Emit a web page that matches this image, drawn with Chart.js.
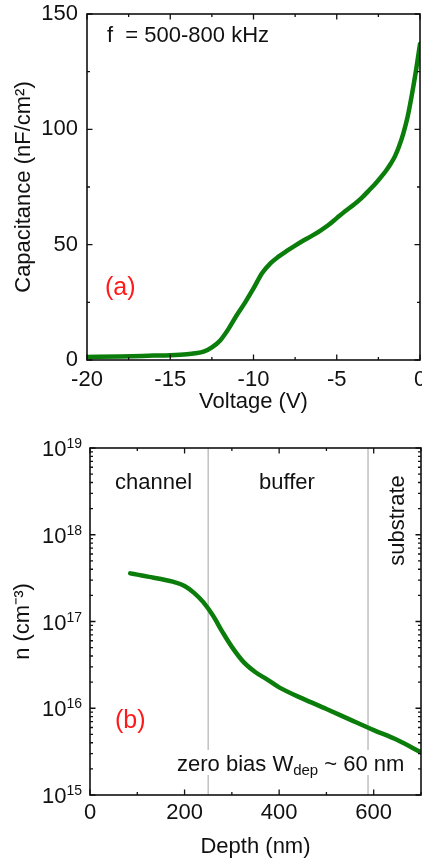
<!DOCTYPE html>
<html>
<head>
<meta charset="utf-8">
<script src="https://cdn.jsdelivr.net/npm/chart.js@4.4.1/dist/chart.umd.min.js"></script>
<style>
  html, body { margin: 0; padding: 0; background: #fff; overflow: hidden; width: 422px; height: 862px; }
  canvas { position: absolute; left: 0; display: block; }
  #cv { top: 0; }
  #prof { top: 428px; }
</style>
</head>
<body>
<canvas id="cv" width="422" height="428"></canvas>
<canvas id="prof" width="422" height="434"></canvas>
<script>
// ---- (a) capacitance–voltage sweep ----
const voltage = [-20, -18, -16, -15, -14, -13.5, -13, -12.5, -12, -11.5, -11, -10.5, -10, -9.5, -9, -8.5, -8,
  -7.5, -7, -6.5, -6, -5.5, -5, -4.5, -4, -3.5, -3, -2.75, -2.5, -2.25, -2, -1.75, -1.5, -1.25, -1, -0.75,
  -0.5, -0.25, 0];
const capacitance = [1.3, 1.5, 1.9, 2.1, 2.5, 2.9, 3.6, 5.5, 8.5, 13.5, 19.5, 25, 31, 37.5, 41.8, 44.8, 47.3,
  49.6, 51.8, 53.8, 56, 58.5, 61.5, 64.5, 67.2, 70.3, 74, 75.9, 77.9, 80.1, 82.5, 85.2, 88.4, 92.8, 98.3, 105.2,
  114.5, 125, 137];
const voltageTicks = [-20, -15, -10, -5, 0];
const voltageMinor = [-17.5, -12.5, -7.5, -2.5];
const capTicks = [0, 50, 100, 150];
const capMinor = [25, 75, 125];

// ---- (b) carrier density vs depth ----
const depth = [85, 100, 125, 150, 175, 200, 220, 240, 260, 280, 300, 325, 350, 375, 400, 450, 500, 550, 600, 650, 700];
const density = [3.59e17, 3.47e17, 3.27e17, 3.09e17, 2.88e17, 2.57e17, 2.14e17, 1.66e17, 1.17e17, 7.6e16, 5.1e16,
  3.4e16, 2.6e16, 2.14e16, 1.74e16, 1.29e16, 9.8e15, 7.4e15, 5.6e15, 4.3e15, 3.1e15];
const depthTicks = [0, 200, 400, 600];
const depthMinor = [100, 300, 500, 700];
const densityDecades = [1e15, 1e16, 1e17, 1e18, 1e19];
const layerBounds = [250, 588];

const FONT = '"Liberation Sans", Arial, Helvetica, sans-serif';
const INK = '#111';
const GREEN = '#0b7d0b';
const RED = '#ff1a1a';

// closed frame with inward ticks on all four sides
const frameTicks = {
  id: 'frameTicks',
  afterDatasetsDraw(chart, args, o) {
    const { ctx, chartArea: a, scales: { x, y } } = chart;
    const MAJ = 5.5, MIN = 3;
    ctx.save();
    ctx.strokeStyle = INK;
    ctx.lineWidth = 1.3;
    ctx.beginPath();
    const xt = (v, len) => {
      const p = x.getPixelForValue(v);
      ctx.moveTo(p, a.bottom); ctx.lineTo(p, a.bottom - len);
      ctx.moveTo(p, a.top); ctx.lineTo(p, a.top + len);
    };
    const yt = (v, len) => {
      const p = y.getPixelForValue(v);
      ctx.moveTo(a.left, p); ctx.lineTo(a.left + len, p);
      ctx.moveTo(a.right, p); ctx.lineTo(a.right - len, p);
    };
    o.xMajor.forEach(v => xt(v, MAJ));
    o.xMinor.forEach(v => xt(v, MIN));
    o.yMajor.forEach(v => yt(v, MAJ));
    o.yMinor.forEach(v => yt(v, MIN));
    ctx.stroke();
    ctx.lineWidth = 1.6;
    ctx.strokeRect(a.left, a.top, a.right - a.left, a.bottom - a.top);
    ctx.restore();
  }
};

// free text labels inside the plot
const notes = {
  id: 'notes',
  afterDraw(chart, args, o) {
    const ctx = chart.ctx;
    ctx.save();
    (o.items || []).forEach(t => {
      ctx.font = `${t.size}px ${FONT}`;
      ctx.fillStyle = t.color || INK;
      ctx.textBaseline = 'alphabetic';
      if (t.rotate) {
        ctx.save();
        ctx.translate(t.x, t.y);
        ctx.rotate(-Math.PI / 2);
        ctx.textAlign = 'center';
        ctx.textBaseline = 'middle';
        ctx.fillText(t.text, 0, 0);
        ctx.restore();
      } else {
        ctx.textAlign = 'left';
        ctx.fillText(t.text, t.x, t.y);
      }
    });
    ctx.restore();
  }
};

// layer boundaries, power-of-ten labels and the depletion width note
const profileExtras = {
  id: 'profileExtras',
  beforeDatasetsDraw(chart) {
    const { ctx, chartArea: a, scales: { x } } = chart;
    ctx.save();
    ctx.strokeStyle = '#c4c4c4';
    ctx.lineWidth = 1.6;
    ctx.beginPath();
    layerBounds.forEach(d => {
      const p = x.getPixelForValue(d);
      ctx.moveTo(p, a.top); ctx.lineTo(p, a.bottom);
    });
    ctx.stroke();
    ctx.restore();
  },
  afterDraw(chart, args, o) {
    const { ctx, chartArea: a, scales: { y } } = chart;
    ctx.save();
    ctx.fillStyle = INK;
    ctx.textBaseline = 'alphabetic';
    densityDecades.forEach(v => {
      const p = y.getPixelForValue(v);
      const exp = String(Math.round(Math.log10(v)));
      ctx.font = `14px ${FONT}`;
      ctx.textAlign = 'right';
      const right = a.left - 8;
      ctx.fillText(exp, right, p);
      const ew = ctx.measureText(exp).width;
      ctx.font = `22px ${FONT}`;
      ctx.fillText('10', right - ew, p + 8);
    });
    // depletion width note on a white patch
    const n = o.wdep;
    ctx.font = `22px ${FONT}`;
    const w1 = ctx.measureText(n.pre).width;
    ctx.font = `15px ${FONT}`;
    const w2 = ctx.measureText(n.sub).width;
    ctx.font = `22px ${FONT}`;
    const w3 = ctx.measureText(n.post).width;
    ctx.fillStyle = '#fff';
    ctx.fillRect(n.x - 2, n.y - 21, w1 + w2 + w3 + 4, 25);
    ctx.fillStyle = INK;
    ctx.textAlign = 'left';
    ctx.fillText(n.pre, n.x, n.y);
    ctx.font = `15px ${FONT}`;
    ctx.fillText(n.sub, n.x + w1, n.y + 4);
    ctx.font = `22px ${FONT}`;
    ctx.fillText(n.post, n.x + w1 + w2, n.y);
    ctx.restore();
  }
};

const tickFont = { family: FONT, size: 22 };
const noGrid = { display: false, drawTicks: false, tickLength: 0 };

new Chart(document.getElementById('cv'), {
  type: 'line',
  data: {
    datasets: [{
      data: voltage.map((v, i) => ({ x: v, y: capacitance[i] })),
      borderColor: GREEN, borderWidth: 4.5, pointRadius: 0,
      cubicInterpolationMode: 'monotone', borderCapStyle: 'round', borderJoinStyle: 'round', fill: false
    }]
  },
  options: {
    responsive: false, animation: false, devicePixelRatio: 1,
    layout: { padding: { top: 14, right: 2, left: 0, bottom: 0 } },
    plugins: {
      legend: { display: false }, tooltip: { enabled: false },
      frameTicks: { xMajor: voltageTicks, xMinor: voltageMinor, yMajor: capTicks, yMinor: capMinor },
      notes: { items: [
        { text: 'f  = 500-800 kHz', x: 107, y: 41.5, size: 22 },
        { text: '(a)', x: 105, y: 295, size: 25, color: RED }
      ] }
    },
    scales: {
      x: {
        type: 'linear', min: -20, max: 0,
        afterBuildTicks: s => { s.ticks = voltageTicks.map(v => ({ value: v })); },
        afterFit: s => { s.height = 68; s.paddingLeft = 0; s.paddingRight = 0; },
        grid: noGrid, border: { display: false },
        ticks: { font: tickFont, color: INK, padding: 7, maxRotation: 0, autoSkip: false },
        title: { display: true, text: 'Voltage (V)', font: tickFont, color: INK, padding: { top: 0, bottom: 13 } }
      },
      y: {
        type: 'linear', min: 0, max: 150,
        afterBuildTicks: s => { s.ticks = capTicks.map(v => ({ value: v })); },
        afterFit: s => { s.width = 87; s.paddingTop = 0; s.paddingBottom = 0; },
        grid: noGrid, border: { display: false },
        ticks: { font: tickFont, color: INK, padding: 9, autoSkip: false },
        title: { display: true, text: 'Capacitance (nF/cm²)', font: tickFont, color: INK, padding: { top: 11, bottom: 0 } }
      }
    }
  },
  plugins: [frameTicks, notes]
});

const densityMinor = [];
densityDecades.slice(0, -1).forEach(d => { for (let k = 2; k <= 9; k++) densityMinor.push(k * d); });

new Chart(document.getElementById('prof'), {
  type: 'line',
  data: {
    datasets: [{
      data: depth.map((d, i) => ({ x: d, y: density[i] })),
      borderColor: GREEN, borderWidth: 4.5, pointRadius: 0,
      cubicInterpolationMode: 'monotone', borderCapStyle: 'round', borderJoinStyle: 'round', fill: false
    }]
  },
  options: {
    responsive: false, animation: false, devicePixelRatio: 1,
    layout: { padding: { top: 20, right: 1, left: 0, bottom: 0 } },
    plugins: {
      legend: { display: false }, tooltip: { enabled: false },
      frameTicks: { xMajor: depthTicks, xMinor: depthMinor, yMajor: densityDecades, yMinor: densityMinor },
      notes: { items: [
        { text: 'channel', x: 115, y: 60.5, size: 22 },
        { text: 'buffer', x: 259, y: 60.5, size: 22 },
        { text: 'substrate', x: 397.5, y: 92.5, size: 22, rotate: true },
        { text: '(b)', x: 115, y: 300, size: 25, color: RED }
      ] },
      profileExtras: { wdep: { pre: 'zero bias W', sub: 'dep', post: ' ~ 60 nm', x: 177, y: 343 } }
    },
    scales: {
      x: {
        type: 'linear', min: 0, max: 700,
        afterBuildTicks: s => { s.ticks = depthTicks.map(v => ({ value: v })); },
        afterFit: s => { s.height = 67; s.paddingLeft = 0; s.paddingRight = 0; },
        grid: noGrid, border: { display: false },
        ticks: { font: tickFont, color: INK, padding: 5, maxRotation: 0, autoSkip: false },
        title: { display: true, text: 'Depth (nm)', font: tickFont, color: INK, padding: { top: 0, bottom: 2 } }
      },
      y: {
        type: 'logarithmic', min: 1e15, max: 1e19,
        afterBuildTicks: s => { s.ticks = densityDecades.map(v => ({ value: v })); },
        afterFit: s => { s.width = 90; s.paddingTop = 0; s.paddingBottom = 0; },
        grid: noGrid, border: { display: false },
        ticks: { display: false },
        title: { display: true, text: 'n (cm⁻³)', font: tickFont, color: INK, padding: { top: 10, bottom: 0 } }
      }
    }
  },
  plugins: [frameTicks, notes, profileExtras]
});
</script>
</body>
</html>
